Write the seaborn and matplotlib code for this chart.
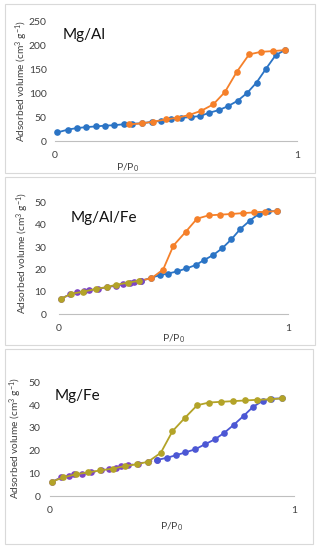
import numpy as np
import pandas as pd
import seaborn as sns
import matplotlib
matplotlib.use('Agg')
import matplotlib.pyplot as plt
from matplotlib.patches import Rectangle

# Mg/Al isotherm
mgal_ads_p = [0.01, 0.055, 0.09, 0.13, 0.17, 0.205, 0.245, 0.285, 0.32, 0.36, 0.40, 0.44, 0.48,
              0.52, 0.56, 0.599, 0.638, 0.678, 0.716, 0.755, 0.795, 0.833, 0.872, 0.912, 0.95]
mgal_ads_v = [18, 24, 27, 29, 30.5, 32, 33, 35, 36, 37, 40, 42, 45,
              48, 50, 52, 59, 64.6, 72.9, 84, 100.7, 122, 150.7, 179, 189.6]
mgal_des_p = [0.307, 0.358, 0.406, 0.459, 0.506, 0.554, 0.605, 0.654, 0.702, 0.751, 0.802, 0.851, 0.902, 0.95]
mgal_des_v = [34.7, 36.8, 40.3, 45.1, 48.6, 54.2, 63.2, 76.4, 102, 144, 180.5, 186, 187.5, 189.6]

# Mg/Al/Fe isotherm
mgalfe_low_p = [0.01, 0.05, 0.08, 0.11, 0.13, 0.17, 0.21, 0.25, 0.28, 0.31, 0.33, 0.36]
mgalfe_low_v = [7.0, 9.0, 9.8, 10.3, 10.7, 11.3, 12.1, 12.8, 13.4, 14.0, 14.5, 15.0]
mgalfe_olive_p = [0.01, 0.055, 0.106, 0.16, 0.21, 0.25, 0.30, 0.35]
mgalfe_olive_v = [7.0, 9.2, 10.1, 11.3, 12.2, 13.2, 14.1, 15.0]
mgalfe_ads_p = [0.36, 0.40, 0.44, 0.477, 0.517, 0.557, 0.597, 0.635, 0.674, 0.714, 0.753, 0.792, 0.833, 0.872, 0.911, 0.952]
mgalfe_ads_v = [15.0, 16.2, 17.5, 18.2, 19.2, 20.5, 22.0, 24.3, 26.5, 29.6, 33.5, 38.1, 41.8, 44.8, 46.0, 46.1]
mgalfe_des_p = [0.353, 0.404, 0.455, 0.50, 0.554, 0.603, 0.654, 0.705, 0.753, 0.804, 0.852, 0.901, 0.952]
mgalfe_des_v = [15.0, 16.1, 20.0, 30.7, 36.9, 42.7, 44.2, 44.5, 44.8, 45.2, 45.5, 45.8, 46.1]

# Mg/Fe isotherm
mgfe_low_p = [0.01, 0.045, 0.08, 0.10, 0.13, 0.17, 0.21, 0.24, 0.27, 0.29, 0.32, 0.36, 0.40, 0.437]
mgfe_low_v = [6.3, 8.2, 9.0, 9.5, 9.9, 10.5, 11.3, 12.0, 12.5, 13.0, 13.5, 14.2, 15.1, 15.8]
mgfe_ads_p = [0.437, 0.478, 0.518, 0.555, 0.596, 0.634, 0.675, 0.714, 0.753, 0.793, 0.832, 0.871, 0.907, 0.95]
mgfe_ads_v = [15.8, 16.8, 18.0, 19.2, 20.6, 22.7, 24.9, 27.8, 31.3, 35.2, 39.2, 41.8, 42.8, 42.9]
mgfe_des_p = [0.007, 0.055, 0.106, 0.157, 0.207, 0.259, 0.307, 0.357, 0.402, 0.454, 0.502, 0.554,
              0.603, 0.652, 0.70, 0.75, 0.80, 0.85, 0.90, 0.95]
mgfe_des_v = [6.3, 8.2, 9.6, 10.4, 11.3, 12.1, 13.2, 14.0, 15.1, 19.0, 28.5, 34.5,
              39.9, 41.1, 41.4, 41.7, 42.0, 42.3, 42.5, 42.9]

BLUE = '#2b74c5'
ORANGE = '#f5802a'
OLIVE = '#b3a328'
PURPLE = '#7d45c4'
INDIGO = '#4c57d4'
GREY = '#bfbfbf'

sns.set_style('white')
plt.rcParams['font.family'] = ['Lato', 'DejaVu Sans']
plt.rcParams['mathtext.default'] = 'regular'


def draw_series(ax, p, v, color, ls='-'):
    df = pd.DataFrame({'P': p, 'V': v})
    sns.lineplot(data=df, x='P', y='V', ax=ax, sort=False, estimator=None,
                 color=color, marker='o', markersize=4.8, markeredgewidth=0,
                 linewidth=1.3, linestyle=ls)


def setup_panel(ax, title, title_pos, ymax, ylab_pos, xlab_pos, ypad):
    ax.set_xlim(0, 1)
    ax.set_ylim(0, ymax)
    ax.set_xticks(np.arange(0, 1.01, 0.2))
    ax.set_xticklabels(['0', '', '', '', '', '1'])
    ax.set_yticks(np.linspace(0, ymax, 6))
    ax.set_yticklabels([f'{t:g}' for t in np.linspace(0, ymax, 6)])
    for s in ['top', 'right', 'left']:
        ax.spines[s].set_visible(False)
    ax.spines['bottom'].set_color(GREY)
    ax.spines['bottom'].set_linewidth(0.8)
    ax.tick_params(axis='x', direction='out', length=3, width=0.8, color=GREY,
                   labelsize=7.5, labelcolor='#404040', pad=4)
    ax.tick_params(axis='y', length=0, labelsize=7.5, labelcolor='#404040', pad=ypad)
    ax.set_xlabel('P/P$_0$', fontsize=7.5, color='#404040')
    ax.xaxis.label.set_va('center')
    ax.xaxis.set_label_coords(*xlab_pos)
    ax.set_ylabel('Adsorbed volume (cm$^3$ g$^{-1}$)', fontsize=7.3, color='#404040')
    ax.yaxis.label.set_va('center')
    ax.yaxis.set_label_coords(*ylab_pos)
    ax.text(title_pos[0], title_pos[1], title, transform=ax.transAxes,
            fontsize=11, ha='left', va='center', color='#111111')
    for line in ax.lines:
        line.set_clip_on(False)


fig = plt.figure(figsize=(3.2, 5.5), dpi=100)

# panel borders
for (x0, y0, w, h) in [(0.016, 0.686, 0.968, 0.307),
                        (0.016, 0.372, 0.968, 0.306),
                        (0.016, 0.011, 0.962, 0.354)]:
    fig.patches.append(Rectangle((x0, y0), w, h, transform=fig.transFigure,
                                 fill=False, edgecolor='#d9d9d9', linewidth=0.8))

ax1 = fig.add_axes([0.172, 0.7436, 0.756, 0.218])
draw_series(ax1, mgal_ads_p, mgal_ads_v, BLUE)
draw_series(ax1, mgal_des_p, mgal_des_v, ORANGE)
setup_panel(ax1, 'Mg/Al', (0.033, 0.883), 250, (-0.136, 0.5), (0.30, -0.225), 6)

ax2 = fig.add_axes([0.184, 0.4285, 0.716, 0.2036])
draw_series(ax2, mgalfe_ads_p, mgalfe_ads_v, BLUE)
draw_series(ax2, mgalfe_des_p, mgalfe_des_v, ORANGE)
draw_series(ax2, mgalfe_low_p, mgalfe_low_v, PURPLE, ls='--')
draw_series(ax2, mgalfe_olive_p, mgalfe_olive_v, OLIVE)
setup_panel(ax2, 'Mg/Al/Fe', (0.052, 0.857), 50, (-0.157, 0.55), (0.5, -0.214), 9)

ax3 = fig.add_axes([0.156, 0.098, 0.763, 0.207])
draw_series(ax3, mgfe_low_p, mgfe_low_v, PURPLE, ls='--')
draw_series(ax3, mgfe_ads_p, mgfe_ads_v, INDIGO)
draw_series(ax3, mgfe_des_p, mgfe_des_v, OLIVE)
setup_panel(ax3, 'Mg/Fe', (0.02, 0.877), 50, (-0.14, 0.51), (0.5, -0.272), 7)

fig.savefig('out.png', dpi=100)
